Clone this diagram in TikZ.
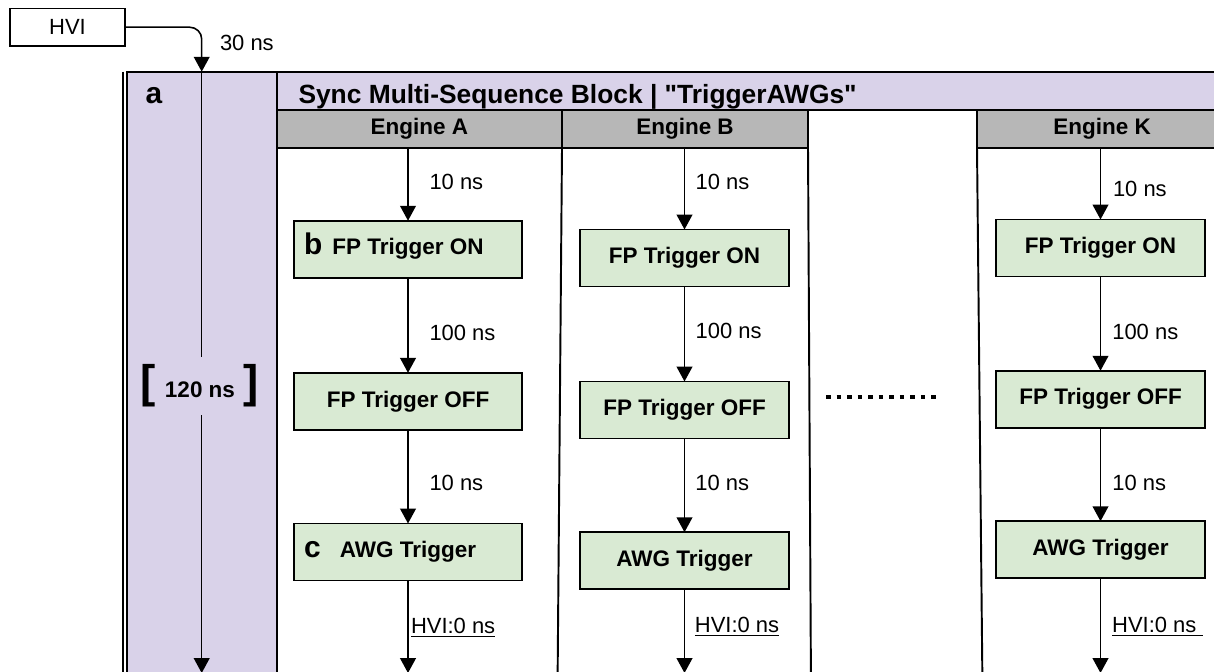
\documentclass[tikz,border=0pt]{standalone}
\usepackage{fontspec}
\setmainfont{Liberation Sans}[Ligatures=TeXOff]
\usetikzlibrary{arrows.meta}

\definecolor{lavender}{HTML}{D9D2E9}
\definecolor{boxgreen}{HTML}{D9EAD3}
\definecolor{headgray}{HTML}{B7B7B7}

\begin{document}
\begin{tikzpicture}[inner sep=0pt, outer sep=0pt,
	wire/.style={black, line width=0.9pt},
	arr/.style={black, line width=0.9pt, -{Triangle[width=9pt,length=8.5pt]}},
	frame/.style={draw=black, line width=1.1pt},
	box/.style={rectangle, draw=black, line width=1.1pt, fill=boxgreen, minimum height=1.14cm, font=\bfseries\fontsize{12.8}{15}\selectfont},
	head/.style={rectangle, draw=black, line width=1.1pt, fill=headgray, anchor=north west, minimum height=0.76cm, font=\bfseries\fontsize{12.8}{15}\selectfont},
	dly/.style={anchor=west, font=\fontsize{12.5}{15}\selectfont},
	tag/.style={anchor=base west, font=\bfseries\fontsize{17}{17}\selectfont}]
	\useasboundingbox (0,0) rectangle (24.28,-13.42);
	
	\node[frame, fill=lavender, anchor=north west, minimum width=3cm, minimum height=12.8cm] at (2.534,-1.434) (col) {};
	\node[frame, fill=lavender, anchor=north west, minimum width=19.2cm, minimum height=0.766cm] at (5.534,-1.434) (band) {};
	\draw[frame] ([xshift=-1.9pt]col.north west) -- ([xshift=-1.9pt]col.south west);
	\node[anchor=base west, font=\bfseries\fontsize{15}{17}\selectfont] at (5.97,-2.07) (title) {Sync Multi-Sequence Block | "TriggerAWGs"};
	\node[tag, anchor=west] at (2.91,-1.92) (taga) {a};
	
	\node[head, minimum width=5.706cm] at (5.534,-2.2) (engA) {Engine A};
	\node[head, minimum width=4.92cm] at (11.24,-2.2) (engB) {Engine B};
	\node[head, minimum width=5cm] at (19.54,-2.2) (engK) {Engine K};
	
	\coordinate (botAB) at (11.15,-13.8);
	\coordinate (botBK) at (16.22,-13.8);
	\coordinate (botK) at (19.65,-13.8);
	\draw[frame] (engA.south east) -- (botAB);
	\draw[frame] (engB.south east) -- (botBK);
	\draw[frame] (engK.south west) -- (botK);
	
	\node[draw=black, line width=0.8pt, minimum width=2.3cm, minimum height=0.754cm, font=\fontsize{12.5}{15}\selectfont] at (1.35,-0.544) (hvi) {HVI};
	\node[dly] at (4.4,-0.866) (t30) {30 ns};
	\coordinate (entry) at (4.034,-1.434);
	\node[font=\bfseries\fontsize{12.8}{15}\selectfont, minimum height=1.16cm] at (4,-7.72) (span) {{\fontsize{26}{26}\selectfont[}\hspace{5pt}120 ns\hspace{5pt}{\fontsize{26}{26}\selectfont]}};
	\coordinate (endL) at (4.034,-13.46);
	\draw[arr, rounded corners=0.24cm] (hvi.east) -| (entry);
	\draw[wire] (entry) -- (span.north -| entry);
	\draw[arr] (span.south -| entry) -- (endL);
	
	\node[box, minimum width=4.56cm] at (8.16,-4.984) (onA) {FP Trigger ON};
	\node[box, minimum width=4.56cm] at (8.16,-8.026) (offA) {FP Trigger OFF};
	\node[box, minimum width=4.56cm] at (8.16,-11.04) (awgA) {AWG Trigger};
	\node[tag, xshift=0.2cm] at (onA.base west) (tagb) {b};
	\node[tag, xshift=0.2cm] at (awgA.base west) (tagc) {c};
	
	\node[box, minimum width=4.18cm] at (13.69,-5.16) (onB) {FP Trigger ON};
	\node[box, minimum width=4.18cm] at (13.69,-8.2) (offB) {FP Trigger OFF};
	\node[box, minimum width=4.18cm] at (13.69,-11.214) (awgB) {AWG Trigger};
	
	\node[box, minimum width=4.18cm] at (22.01,-4.96) (onK) {FP Trigger ON};
	\node[box, minimum width=4.18cm] at (22.01,-7.984) (offK) {FP Trigger OFF};
	\node[box, minimum width=4.18cm] at (22.01,-10.994) (awgK) {AWG Trigger};
	
	\coordinate (endA) at (8.16,-13.46);
	\coordinate (endB) at (13.69,-13.46);
	\coordinate (endK) at (22.01,-13.46);
	
	\draw[arr] (engA.south -| onA.north) -- (onA.north);
	\draw[arr] (onA) -- (offA);
	\draw[arr] (offA) -- (awgA);
	\draw[arr] (awgA) -- (endA);
	
	\draw[arr] (engB.south -| onB.north) -- (onB.north);
	\draw[arr] (onB) -- (offB);
	\draw[arr] (offB) -- (awgB);
	\draw[arr] (awgB) -- (endB);
	
	\draw[arr] (engK.south -| onK.north) -- (onK.north);
	\draw[arr] (onK) -- (offK);
	\draw[arr] (offK) -- (awgK);
	\draw[arr] (awgK) -- (endK);
	
	\node[dly] at (8.59,-3.634) (dA1) {10 ns};
	\node[dly] at (8.59,-6.654) (dA2) {100 ns};
	\node[dly] at (8.59,-9.654) (dA3) {10 ns};
	\node[dly] at (8.22,-12.554) (dA4) {\underline{HVI:0 ns}};
	
	\node[dly] at (13.914,-3.634) (dB1) {10 ns};
	\node[dly] at (13.914,-6.62) (dB2) {100 ns};
	\node[dly] at (13.906,-9.654) (dB3) {10 ns};
	\node[dly] at (13.898,-12.534) (dB4) {\underline{HVI:0 ns}};
	
	\node[dly] at (22.26,-3.786) (dK1) {10 ns};
	\node[dly] at (22.246,-6.634) (dK2) {100 ns};
	\node[dly] at (22.246,-9.666) (dK3) {10 ns};
	\node[dly] at (22.244,-12.534) (dK4) {\underline{HVI:0 ns~}};
	
	\coordinate (dotL) at (16.52,-7.934);
	\coordinate (dotR) at (18.834,-7.934);
	\draw[line width=2.2pt, dash pattern=on 2.6pt off 3.4pt] (dotL) -- (dotR);
\end{tikzpicture}
\end{document}
